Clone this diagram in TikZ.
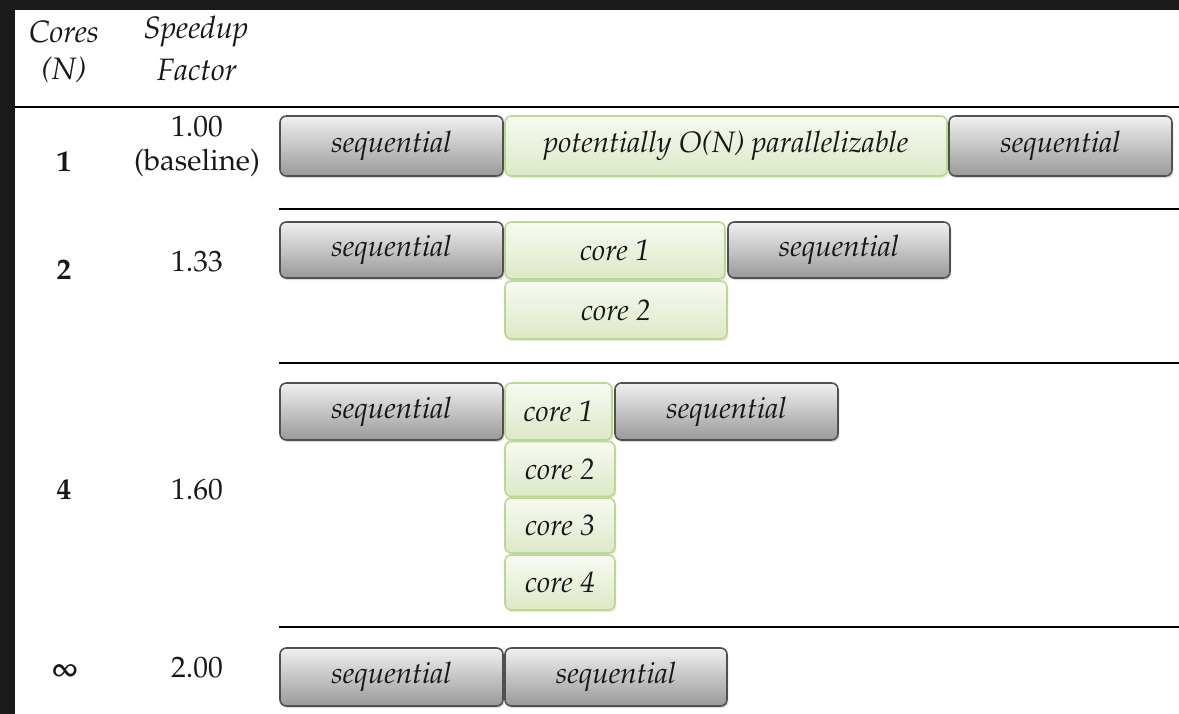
\documentclass[tikz,border=0pt]{standalone}
\usepackage[T1]{fontenc}
\usepackage{mathpazo}
\usetikzlibrary{shadows}
\definecolor{framebg}{HTML}{1A1A1A}
\definecolor{txt}{HTML}{181818}
\definecolor{seqborder}{HTML}{505050}
\definecolor{seqtop}{HTML}{F0F0F0}
\definecolor{seqmid}{HTML}{C6C6C6}
\definecolor{seqbot}{HTML}{999999}
\definecolor{parborder}{HTML}{B9D98F}
\definecolor{partop}{HTML}{F7FAF2}
\definecolor{parbot}{HTML}{DCE8C6}
\tikzset{
  wh/.style 2 args={minimum width=#1*0.025cm, minimum height=#2*0.025cm},
  basebox/.style={inner sep=0pt, rounded corners=4.5pt, line width=1.1pt,
    font=\fontsize{21}{24}\selectfont\itshape, text=txt},
  seqbox/.style={basebox, draw=seqborder, top color=seqtop, middle color=seqmid, bottom color=seqbot,
    drop shadow={shadow xshift=1pt, shadow yshift=-1.5pt, fill=gray!45, opacity=.6}},
  parbox/.style={basebox, draw=parborder, top color=partop, bottom color=parbot,
    drop shadow={shadow xshift=1pt, shadow yshift=-1.5pt, fill=gray!35, opacity=.5}},
  headtxt/.style={font=\fontsize{22}{24}\selectfont\itshape, text=txt, inner sep=0pt},
  celltxt/.style={font=\fontsize{21}{24}\selectfont, text=txt, inner sep=0pt},
  boldtxt/.style={font=\fontsize{21}{24}\selectfont\bfseries\boldmath, text=txt, inner sep=0pt},
  rule/.style={line width=1.3pt, draw=black}
}
\begin{document}
\begin{tikzpicture}[x=0.025cm, y=-0.025cm]
\fill[framebg] (0,0) rectangle (1179,714);
\fill[white] (15,10) rectangle (1179,714);
\useasboundingbox (0,0) rectangle (1179,714);

% header
\node[headtxt] (hc1) at (64,32) {Cores};
\node[headtxt] (hc2) at (64,70) {(N)};
\node[headtxt] (hs1) at (196,32) {Speedup};
\node[headtxt] (hs2) at (197,70) {Factor};
\coordinate (h0) at (15,107);
\coordinate (h1) at (1179,107);
\draw[rule] (h0) -- (h1);

% row 1
\node[boldtxt] (n1) at (64,162) {1};
\node[celltxt] (f1a) at (197,127) {1.00};
\node[celltxt] (f1b) at (197,163) {(baseline)};
\node[seqbox, wh={223}{60}] (r1s1) at (391.5,146) {sequential};
\node[parbox, wh={442}{60}] (r1p) at (726,146) {potentially O(N) parallelizable};
\node[seqbox, wh={223}{60}] (r1s2) at (1060.5,146) {sequential};
\coordinate (l1a) at (279,209);
\coordinate (l1b) at (1179,209);
\draw[rule] (l1a) -- (l1b);

% row 2
\node[boldtxt] (n2) at (64,270) {2};
\node[celltxt] (f2) at (197,262) {1.33};
\node[seqbox, wh={223}{56}] (r2s1) at (391.5,250) {sequential};
\node[parbox, wh={222}{58}] (r2c2) at (616,310) {core 2};
\node[parbox, wh={220}{57}] (r2c1) at (615,250.5) {core 1};
\node[seqbox, wh={222}{56}] (r2s2) at (839,250) {sequential};
\coordinate (l2a) at (279,363);
\coordinate (l2b) at (1179,363);
\draw[rule] (l2a) -- (l2b);

% row 4
\node[boldtxt] (n4) at (64,490) {4};
\node[celltxt] (f4) at (197,490) {1.60};
\node[seqbox, wh={223}{57}] (r4s1) at (391.5,411.5) {sequential};
\node[parbox, wh={110}{55}] (r4c4) at (560,582.5) {core 4};
\node[parbox, wh={110}{55}] (r4c3) at (560,525.5) {core 3};
\node[parbox, wh={110}{55}] (r4c2) at (560,469) {core 2};
\node[parbox, wh={107}{57}] (r4c1) at (558.5,411.5) {core 1};
\node[seqbox, wh={223}{57}] (r4s2) at (726.5,411.5) {sequential};
\coordinate (l3a) at (279,627);
\coordinate (l3b) at (1179,627);
\draw[rule] (l3a) -- (l3b);

% row infinity
\node[boldtxt] (ninf) at (65,672) {$\infty$};
\node[celltxt] (finf) at (197,668) {2.00};
\node[seqbox, wh={223}{58}] (r5s1) at (391.5,677) {sequential};
\node[seqbox, wh={222}{58}] (r5s2) at (616,677) {sequential};
\end{tikzpicture}
\end{document}
